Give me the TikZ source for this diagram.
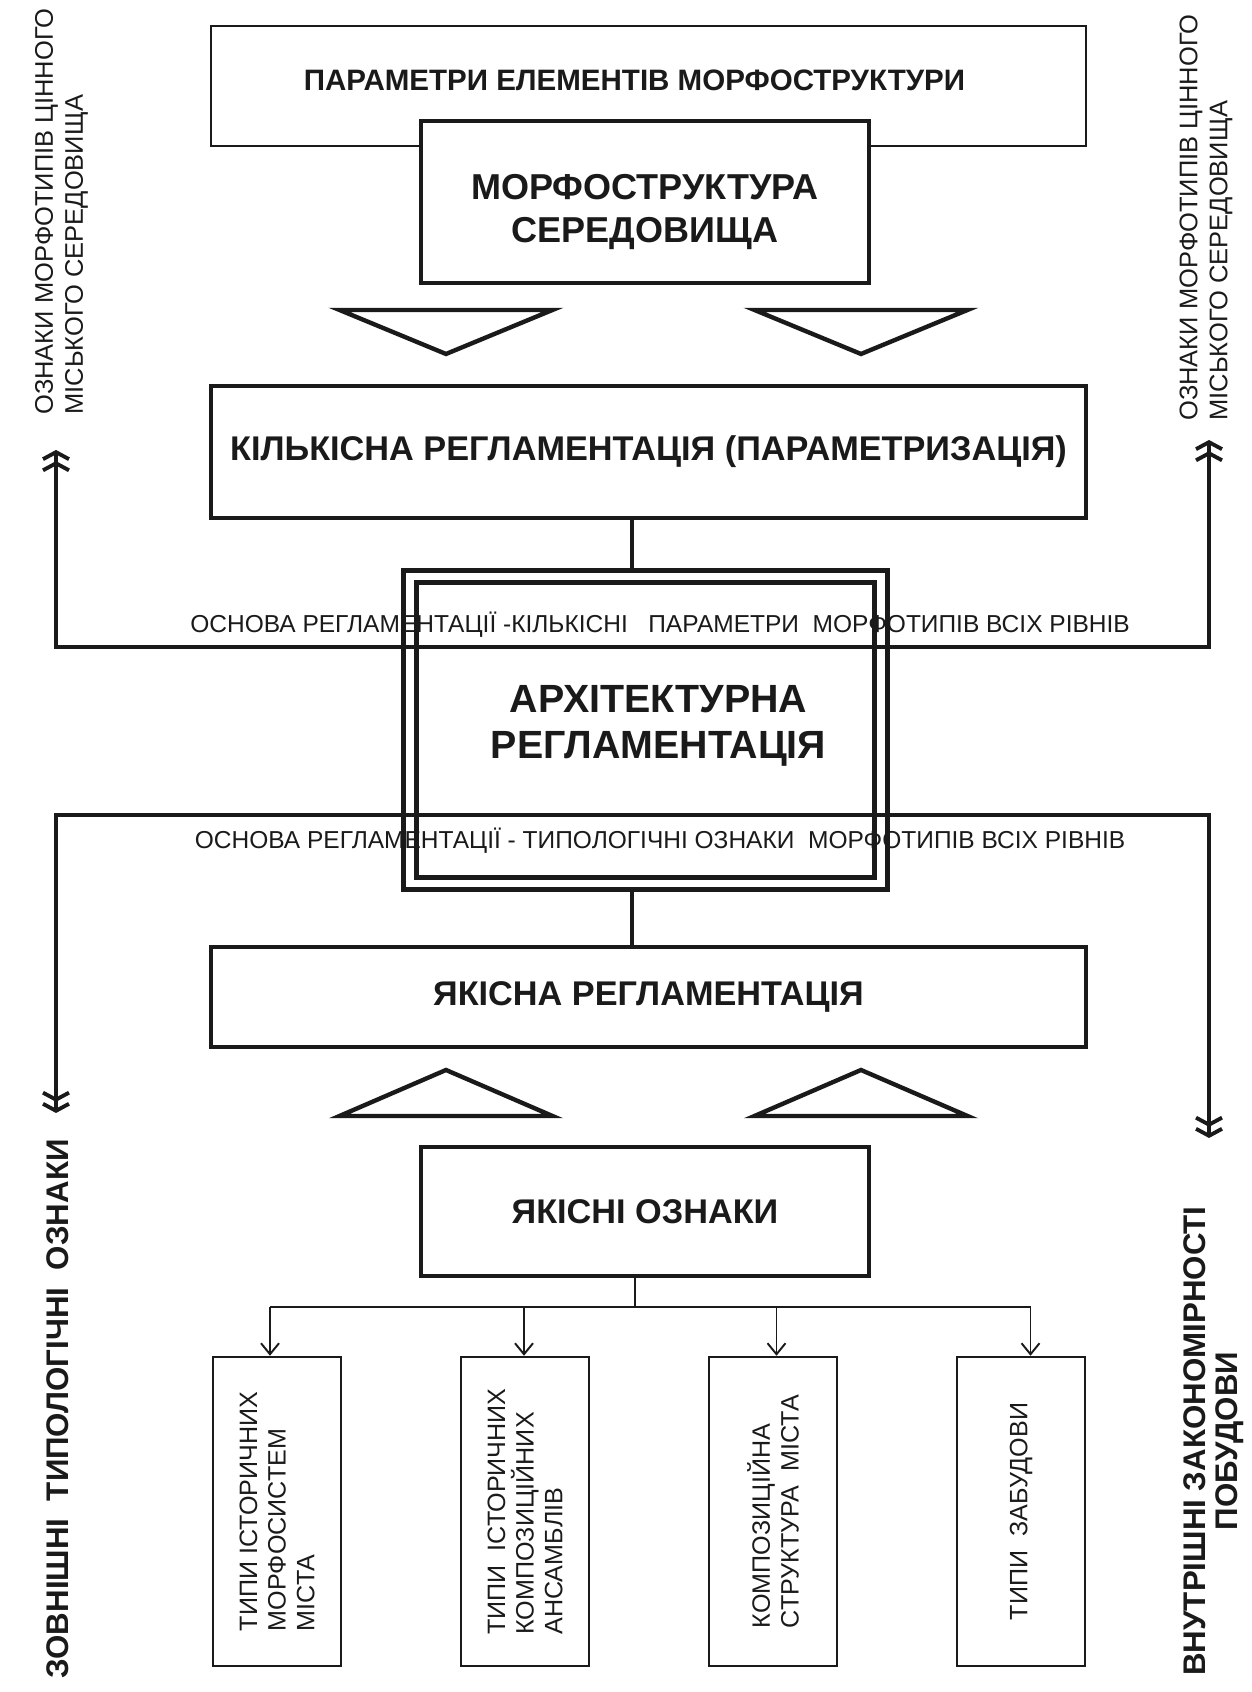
\documentclass[tikz,border=0pt]{standalone}
\usepackage{fontspec}
\setmainfont{Liberation Sans}
\setsansfont{Liberation Sans}
\usetikzlibrary{arrows.meta, positioning, calc}
\definecolor{ink}{HTML}{1A1A1A}

\begin{document}
\begin{tikzpicture}[
    every node/.style={font=\sffamily, text=ink},
    big/.style={font=\sffamily\bfseries\fontsize{20.5}{24}\selectfont},
    mid/.style={font=\sffamily\bfseries\fontsize{19.5}{22}\selectfont},
    lab/.style={font=\sffamily\fontsize{13.95}{16}\selectfont},
    note/.style={font=\sffamily\fontsize{14.5}{17}\selectfont, rotate=90, anchor=west,
                 align=left, inner sep=0pt},
    side/.style={font=\sffamily\bfseries\fontsize{17.8}{18.2}\selectfont, rotate=90},
    wide/.style={rectangle, draw=ink, minimum width=17.50cm, inner sep=0pt},
    core/.style={rectangle, draw=ink, fill=white, line width=2.7pt,
                 minimum width=8.96cm, align=center, inner sep=0pt},
    leaf/.style={rectangle, draw=ink, line width=1.4pt, rotate=90,
                 minimum width=6.18cm, minimum height=2.56cm, align=left, inner sep=0pt,
                 font=\sffamily\fontsize{14.3}{16.3}\selectfont},
    wedge/.style={draw=ink, line width=2.5pt, line join=miter},
    link/.style={draw=ink, line width=2.3pt},
    twin/.style={draw=ink, line width=2.3pt,
                 >={Straight Barb[length=0.14cm, width=0.52cm, line width=2.2pt]}, <<->>},
    feed/.style={draw=ink, line width=1.1pt, -{Straight Barb[length=0.22cm, width=0.36cm]}},
]
\useasboundingbox (0,0) rectangle (25.04,33.84);

% ================================================ upper block
\node[wide, line width=1.5pt, minimum height=2.40cm] (params) at (12.97, 32.12) {};
\node[font=\sffamily\bfseries\fontsize{16.8}{19}\selectfont] (paramslbl)
      at ([shift={(-0.28,0.11)}]params.center) {ПАРАМЕТРИ ЕЛЕМЕНТІВ МОРФОСТРУКТУРИ};

\node[core, minimum height=3.24cm] (morph) at (12.90, 29.80) {};
\node[big, align=center] (morphlbl) at ([yshift=-0.20cm]morph.center)
      {МОРФОСТРУКТУРА\\СЕРЕДОВИЩА};

\foreach \x in {8.92, 17.22}{
    \draw[wedge] ({\x-2.13}, 27.64) -- ({\x+2.13}, 27.64) -- (\x, 26.76) -- cycle;
}

\node[wide, mid, line width=2.3pt, minimum height=2.64cm] (quant) at (12.97, 24.80)
      {КІЛЬКІСНА РЕГЛАМЕНТАЦІЯ (ПАРАМЕТРИЗАЦІЯ)};

% ================================================ the frame in the middle
\node[rectangle, draw=ink, double, double distance=4.5pt, line width=2.8pt, outer sep=5pt,
      minimum width=9.42cm, minimum height=6.14cm, inner sep=0pt] (arch) at (12.91, 19.24) {};
\node[font=\sffamily\bfseries\fontsize{22.4}{26}\selectfont, align=center] (archlbl)
      at ([shift={(0.26,0.08)}]arch.center) {АРХІТЕКТУРНА\\РЕГЛАМЕНТАЦІЯ};

\draw[link] ([xshift=-0.27cm]arch.north) -- ([xshift=-0.27cm]arch.north |- quant.south);
\draw[link] ([xshift=-0.27cm]arch.south) -- ([xshift=-0.27cm]arch.south |- 0,14.90);

% the two bases, out to both sides
\coordinate (ltop) at (1.12, 24.84);
\coordinate (rtop) at (24.18, 25.04);
\coordinate (lup)  at (1.12, 20.90);
\coordinate (rup)  at (24.18, 20.90);
\coordinate (ldn)  at (1.12, 17.54);
\coordinate (rdn)  at (24.18, 17.54);
\coordinate (lbot) at (1.12, 11.58);
\coordinate (rbot) at (24.18, 11.08);
\draw[twin] (ltop) -- (lup) -- (rup) -- (rtop);
\draw[twin] (lbot) -- (ldn) -- (rdn) -- (rbot);

\node[lab, anchor=base] (qbase) at (13.20, 21.19)
      {ОСНОВА РЕГЛАМЕНТАЦІЇ -КІЛЬКІСНІ~~~ПАРАМЕТРИ~~МОРФОТИПІВ ВСІХ РІВНІВ};
\node[lab, anchor=base] (tbase) at (13.20, 16.87)
      {ОСНОВА РЕГЛАМЕНТАЦІЇ - ТИПОЛОГІЧНІ ОЗНАКИ~~МОРФОТИПІВ ВСІХ РІВНІВ};

% ================================================ lower block
\node[wide, mid, line width=2.3pt, minimum height=2.00cm] (qual) at (12.97, 13.90)
      {ЯКІСНА РЕГЛАМЕНТАЦІЯ};

\foreach \x in {8.92, 17.22}{
    \draw[wedge] ({\x-2.13}, 11.52) -- ({\x+2.13}, 11.52) -- (\x, 12.44) -- cycle;
}

\node[core, mid, minimum height=2.58cm] (traits) at (12.90, 9.61) {ЯКІСНІ ОЗНАКИ};

\foreach \i/\x/\txt in {1/5.54/{ТИПИ ІСТОРИЧНИХ\\МОРФОСИСТЕМ\\МІСТА},
                        2/10.50/{ТИПИ~~ІСТОРИЧНИХ\\КОМПОЗИЦІЙНИХ\\АНСАМБЛІВ},
                        3/15.46/{КОМПОЗИЦІЙНА\\СТРУКТУРА~~МІСТА},
                        4/20.42/{ТИПИ~~ЗАБУДОВИ}}{
    \node[leaf] (leaf\i) at (\x, 3.61) {\txt};
}

\coordinate (hub) at (12.70, 7.70);
\draw[draw=ink, line width=1.1pt] (traits.south -| hub) -- (hub);
\draw[draw=ink, line width=1.1pt] ([xshift=-0.14cm]leaf1.east |- hub)
      -- ([xshift=0.19cm]leaf4.east |- hub);
\foreach \i/\dx in {1/-0.14, 2/-0.02, 3/0.07, 4/0.19}{
    \draw[feed] ([xshift=\dx cm]leaf\i.east |- hub) -- ([xshift=\dx cm]leaf\i.east);
}

% ================================================ side notes
\node[note] (lnote) at (1.23, 25.54) {ОЗНАКИ МОРФОТИПІВ ЦІННОГО\\МІСЬКОГО СЕРЕДОВИЩА};
\node[note] (rnote) at (24.12, 25.42) {ОЗНАКИ МОРФОТИПІВ ЦІННОГО\\МІСЬКОГО СЕРЕДОВИЩА};

\node[side] (outer) at (1.16, 5.66) {ЗОВНІШНІ~~ТИПОЛОГІЧНІ~~ОЗНАКИ};
\node[side, align=center] (inner) at (24.28, 5.02) {ВНУТРІШНІ ЗАКОНОМІРНОСТІ\\ПОБУДОВИ};

\end{tikzpicture}
\end{document}
